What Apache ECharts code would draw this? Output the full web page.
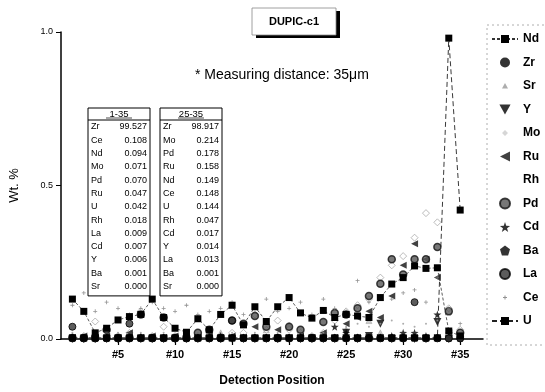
<!DOCTYPE html>
<html>
<head>
<meta charset="utf-8">
<script src="https://cdn.jsdelivr.net/npm/echarts@6/dist/echarts.min.js"></script>
<style>
html,body{margin:0;padding:0;background:#fff;}
#chart{width:545px;height:392px;}
</style>
</head>
<body>
<div id="chart"></div>
<script>
// ---- data ----
var positions = [1,2,3,4,5,6,7,8,9,10,11,12,13,14,15,16,17,18,19,20,21,22,23,24,25,26,27,28,29,30,31,32,33,34,35];
var xTicks = [5,10,15,20,25,30,35];
var yTicks = [0,0.5,1.0];
var legendNames = ['Nd','Zr','Sr','Y','Mo','Ru','Rh','Pd','Cd','Ba','La','Ce','U'];

var ndVals = [0.13,0.09,0.02,0.035,0.062,0.073,0.08,0.13,0.07,0.035,0.022,0.066,0.03,0.08,0.11,0.046,0.105,0.057,0.105,0.135,0.085,0.068,0.093,0.07,0.08,0.075,0.07,0.135,0.179,0.2,0.238,0.23,0.232,0.026,0.01];
var zrVals = [99.5,99.5,99.5,99.5,99.5,99.5,99.5,99.5,99.5,99.5,99.5,99.5,99.5,99.5,99.5,99.5,99.5,99.5,99.5,99.5,99.5,99.5,99.5,99.5,99.2,99.1,99.0,98.9,98.8,98.7,98.6,98.5,98.4,98.0,99.0];
var srVals = [0.005,0.004,0.01,0.004,0.005,0.004,0.01,0.005,0.004,0.005,0.004,0.01,0.004,0.02,0.004,0.005,0.004,0.03,0.004,0.045,0.005,0.004,0.005,0.004,0.03,0.005,0.06,0.02,0.005,0.004,0.005,0.004,0.005,0.004,0.003];
var yVals = [0,0,0,0,0,0,0,0,0,0,0,0,0,0,0,0,0,0,0,0,0,0,0,0,0.02,0,0.01,0.05,0,0,0,0,0.055,0,0];
var moVals = [0.005,0.01,0.057,0.01,0.01,0.02,0.09,0.01,0.04,0.01,0.01,0.01,0.02,0.01,0.02,0.02,0.08,0.03,0.06,0.03,0.02,0.01,0.02,0.06,0.09,0.11,0.13,0.2,0.24,0.27,0.33,0.41,0.38,0.1,0.03];
var ruVals = [0.005,0.01,0.005,0.01,0.005,0.02,0.005,0.01,0.005,0.01,0.02,0.005,0.01,0.005,0.01,0.005,0.04,0.005,0.03,0.005,0.01,0.005,0.02,0.005,0.05,0.07,0.09,0.07,0.14,0.24,0.31,0.26,0.2,0.02,0.01];
var rhVals = [0.02,0.01,0.02,0.01,0.02,0.01,0.02,0.01,0.02,0.01,0.02,0.01,0.02,0.01,0.02,0.01,0.02,0.01,0.02,0.01,0.02,0.01,0.02,0.01,0.04,0.05,0.04,0.05,0.06,0.05,0.04,0.05,0.06,0.03,0.01];
var pdVals = [0.003,0.003,0.003,0.03,0.003,0.003,0.08,0.003,0.07,0.003,0.003,0.02,0.03,0.003,0.06,0.05,0.075,0.04,0.003,0.04,0.03,0.003,0.055,0.085,0.08,0.1,0.14,0.18,0.26,0.21,0.26,0.26,0.3,0.09,0.02];
var cdVals = [0.005,0.004,0.005,0.004,0.005,0.004,0.005,0.004,0.005,0.004,0.005,0.004,0.005,0.01,0.005,0.004,0.005,0.004,0.005,0.004,0.005,0.004,0.005,0.04,0.02,0.005,0.004,0.005,0.01,0.02,0.02,0.01,0.08,0.004,0.005];
var baVals = [0.004,0.004,0.004,0.004,0.004,0.004,0.004,0.004,0.004,0.004,0.004,0.004,0.004,0.004,0.004,0.004,0.004,0.004,0.004,0.004,0.004,0.004,0.004,0.004,0.004,0.004,0.004,0.004,0.004,0.004,0.004,0.004,0.004,0.004,0.004];
var laVals = [0.04,0.002,0.002,0.002,0.002,0.05,0.002,0.002,0.002,0.002,0.002,0.002,0.002,0.002,0.06,0.002,0.002,0.002,0.002,0.002,0.002,0.002,0.002,0.002,0.002,0.002,0.002,0.002,0.002,0.002,0.12,0.002,0.002,0.002,0.002];
var ceVals = [0.11,0.15,0.09,0.12,0.1,0.08,0.1,0.12,0.1,0.09,0.11,0.08,0.09,0.1,0.12,0.08,0.1,0.13,0.09,0.1,0.12,0.08,0.13,0.1,0.09,0.19,0.12,0.14,0.13,0.15,0.16,0.12,0.2,0.1,0.05];
var uVals = [0.004,0.004,0.004,0.004,0.004,0.004,0.004,0.004,0.004,0.004,0.004,0.004,0.004,0.004,0.004,0.004,0.004,0.004,0.004,0.004,0.004,0.004,0.004,0.004,0.004,0.004,0.004,0.004,0.004,0.004,0.004,0.004,0.004,0.98,0.42];

var table1Head = '1-35';
var table1Names = ['Zr','Ce','Nd','Mo','Pd','Ru','U','Rh','La','Cd','Y','Ba','Sr'];
var table1Vals = ['99.527','0.108','0.094','0.071','0.070','0.047','0.042','0.018','0.009','0.007','0.006','0.001','0.000'];
var table2Head = '25-35';
var table2Names = ['Zr','Mo','Pd','Ru','Nd','Ce','U','Rh','Cd','Y','La','Ba','Sr'];
var table2Vals = ['98.917','0.214','0.178','0.158','0.149','0.148','0.144','0.047','0.017','0.014','0.013','0.001','0.000'];

var titleText = 'DUPIC-c1';
var noteText = '* Measuring distance: 35\u03bcm';
var xTitle = 'Detection Position';
var yTitle = 'Wt. %';

// ---- helpers ----
function pairs(vals){ return positions.map(function(p,i){ return [p, vals[i]]; }); }
var FONT = 'Liberation Sans, Arial, sans-serif';

// corner specks make the icon bounding box 10x10 while staying invisible
var BOX = 'M0,0 L0.01,0 L0,0.01 Z M10,10 L9.99,10 L10,9.99 Z ';
var STAR = 'path://M5,0 L6.2,3.6 L10,3.8 L7,6.1 L8.1,9.8 L5,7.6 L1.9,9.8 L3,6.1 L0,3.8 L3.8,3.6 Z';
var PENT = 'path://M5,0 L10,3.8 L8.1,10 L1.9,10 L0,3.8 Z';
var DOWNTRI = 'path://M0,0 L10,0 L5,9 Z';
var UPTRI = 'path://M5,0 L10,9 L0,9 Z';
var DIAM = 'path://M5,0 L10,5 L5,10 L0,5 Z';
var LEFTTRI = 'path://M10,0 L10,10 L0,5 Z';
var PLUS = 'path://M4,0 L6,0 L6,4 L10,4 L10,6 L6,6 L6,10 L4,10 L4,6 L0,6 L0,4 L4,4 Z';
var SMALLPLUS = 'path://' + BOX + 'M4.5,3 L5.5,3 L5.5,4.5 L7,4.5 L7,5.5 L5.5,5.5 L5.5,7 L4.5,7 L4.5,5.5 L3,5.5 L3,4.5 L4.5,4.5 Z';
var SMALLTRI = 'path://' + BOX + 'M5,2 L8,7.5 L2,7.5 Z';
var SMALLDIAM = 'path://' + BOX + 'M5,2 L8,5 L5,8 L2,5 Z';
var NOICON = 'path://' + BOX;

function scatter(name, vals, symbol, size, style){
  return {name:name, type:'scatter', data:pairs(vals), symbol:symbol, symbolSize:size,
    itemStyle:style, clip:true, silent:true, z:3};
}

var series = [
  {name:'Nd', type:'line', data:pairs(ndVals), symbol:'rect', symbolSize:7,
   itemStyle:{color:'#000'}, lineStyle:{color:'#333', width:0.8, type:[3,2]}, z:4},
  scatter('Zr', zrVals, 'circle', 7, {color:'#000'}),
  scatter('Sr', srVals, UPTRI, 6, {color:'#bbb', borderColor:'#999', borderWidth:0.6}),
  scatter('Y', yVals, DOWNTRI, 8, {color:'#000'}),
  scatter('Mo', moVals, DIAM, 7, {color:'#fff', borderColor:'#aaa', borderWidth:1}),
  scatter('Ru', ruVals, LEFTTRI, 7, {color:'#111'}),
  scatter('Rh', rhVals, 'circle', 2, {color:'#999'}),
  scatter('Pd', pdVals, 'circle', 7, {color:'#555', borderColor:'#111', borderWidth:1.5}),
  scatter('Cd', cdVals, STAR, 8, {color:'#000'}),
  scatter('Ba', baVals, PENT, 8, {color:'#000'}),
  scatter('La', laVals, 'circle', 7, {color:'#333', borderColor:'#000', borderWidth:1}),
  scatter('Ce', ceVals, PLUS, 4, {color:'#777'}),
  {name:'U', type:'line', data:pairs(uVals), symbol:'rect', symbolSize:7,
   itemStyle:{color:'#000'}, lineStyle:{color:'#222', width:0.9, type:[5,3]}, z:4}
];

var legendData = legendNames.map(function(n){
  if (n === 'Ce') return {name:n, icon:SMALLPLUS};
  if (n === 'Sr') return {name:n, icon:SMALLTRI, itemStyle:{color:'#999', borderWidth:0}};
  if (n === 'Mo') return {name:n, icon:SMALLDIAM, itemStyle:{color:'#ccc', borderWidth:0}};
  if (n === 'Rh') return {name:n, icon:NOICON};
  return {name:n};
});

// table graphics
function buildTable(x, w, head, names, vals){
  var els = [];
  var top = 108, headH = 12, rowH = 13.3, n = names.length;
  var h = headH + rowH*n + 3;
  els.push({type:'rect', shape:{x:x, y:top, width:w, height:h}, style:{fill:'#fff', stroke:'#000', lineWidth:1}});
  els.push({type:'line', shape:{x1:x, y1:top+headH, x2:x+w, y2:top+headH}, style:{stroke:'#000', lineWidth:1}});
  els.push({type:'text', style:{x:x+w/2, y:top+headH/2, text:head, fill:'#000', font:'9.5px '+FONT, align:'center', verticalAlign:'middle'}});
  els.push({type:'line', shape:{x1:x+w/2-13, y1:top+headH-2, x2:x+w/2+13, y2:top+headH-2}, style:{stroke:'#000', lineWidth:0.7}});
  for (var i=0;i<n;i++){
    var cy = top + headH + 7 + i*rowH;
    els.push({type:'text', style:{x:x+3, y:cy, text:names[i], fill:'#000', font:'9px '+FONT, align:'left', verticalAlign:'middle'}});
    els.push({type:'text', style:{x:x+w-3, y:cy, text:vals[i], fill:'#000', font:'9px '+FONT, align:'right', verticalAlign:'middle'}});
  }
  return els;
}

var graphics = [];
// title box with shadow
graphics.push({type:'rect', shape:{x:256, y:11, width:84, height:27}, style:{fill:'#000'}});
graphics.push({type:'rect', shape:{x:252, y:8, width:84, height:27}, style:{fill:'#fff', stroke:'#888', lineWidth:0.8}});
graphics.push({type:'text', style:{x:294, y:21.5, text:titleText, fill:'#000', font:'bold 11px '+FONT, align:'center', verticalAlign:'middle'}});
graphics.push({type:'text', style:{x:195, y:75, text:noteText, fill:'#000', font:'14px '+FONT, align:'left', verticalAlign:'middle'}});
graphics = graphics.concat(buildTable(88, 62, table1Head, table1Names, table1Vals));
graphics = graphics.concat(buildTable(160, 62, table2Head, table2Names, table2Vals));
// legend frame
graphics.push({type:'rect', shape:{x:487, y:25, width:70, height:320}, style:{fill:'none', stroke:'#999', lineWidth:0.8, lineDash:[2,3]}});

var chart = echarts.init(document.getElementById('chart'), null, {renderer:'canvas'});
chart.setOption({
  animation:false,
  backgroundColor:'#fff',
  grid:{left:61, right:62, top:32, bottom:52, containLabel:false},
  xAxis:{type:'value', min:0, max:37, interval:5,
    name:xTitle, nameLocation:'middle', nameGap:36,
    nameTextStyle:{fontFamily:FONT, fontSize:12, fontWeight:'bold', color:'#000'},
    axisLine:{show:true, onZero:false, lineStyle:{color:'#000', width:1.5}},
    axisTick:{show:true, length:6, lineStyle:{color:'#000', width:1.2}, customValues:xTicks},
    axisLabel:{customValues:xTicks, formatter:function(v){return '#'+v;}, fontFamily:FONT, fontSize:11, fontWeight:'bold', color:'#000', margin:10},
    splitLine:{show:false}},
  yAxis:{type:'value', min:0, max:1, interval:0.5,
    name:yTitle, nameLocation:'middle', nameGap:40, nameRotate:90,
    nameTextStyle:{fontFamily:FONT, fontSize:13, color:'#000'},
    axisLine:{show:true, lineStyle:{color:'#000', width:1.5}},
    axisTick:{show:true, length:5, lineStyle:{color:'#000'}},
    axisLabel:{formatter:function(v){return v.toFixed(1);}, fontFamily:FONT, fontSize:9, color:'#000', margin:8},
    splitLine:{show:false}},
  legend:{data:legendData, orient:'vertical', left:486, top:28, itemWidth:26, itemHeight:10, itemGap:11.5,
    textStyle:{fontFamily:FONT, fontSize:12, fontWeight:'bold', color:'#000', lineHeight:10},
    inactiveColor:'#000', selectedMode:false},
  graphic:graphics,
  series:series
});
</script>
</body>
</html>
